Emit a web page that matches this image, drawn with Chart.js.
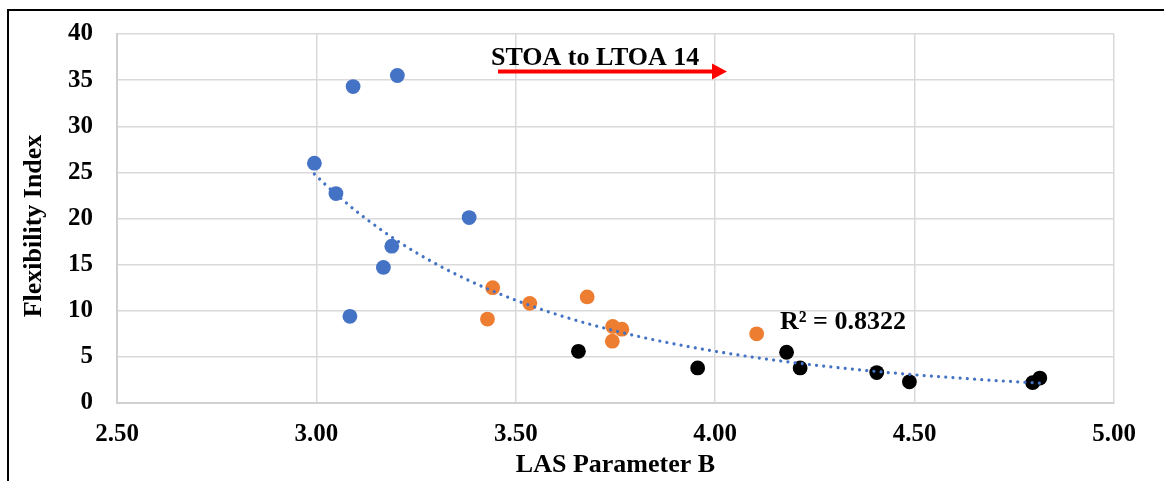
<!DOCTYPE html>
<html>
<head>
<meta charset="utf-8">
<script src="https://cdn.jsdelivr.net/npm/chart.js@4.4.0/dist/chart.umd.min.js"></script>
<style>
html,body{margin:0;padding:0;background:#fff;}
#wrap{width:1164px;height:481px;position:relative;}
</style>
</head>
<body>
<div id="wrap"><canvas id="c" width="1164" height="481"></canvas></div>
<script>
// ---- data ----
const blueX   = [2.995, 3.049, 3.092, 3.203, 3.189, 3.168, 3.084, 3.383];
const blueY   = [26.0, 22.7, 34.3, 35.5, 17.0, 14.7, 9.4, 20.1];
const orangeX = [3.442, 3.429, 3.535, 3.679, 3.743, 3.766, 3.742, 4.104];
const orangeY = [12.5, 9.1, 10.8, 11.5, 8.3, 8.0, 6.7, 7.5];
const blackX  = [3.657, 3.956, 4.179, 4.213, 4.405, 4.487, 4.796, 4.814];
const blackY  = [5.6, 3.8, 5.5, 3.8, 3.3, 2.3, 2.2, 2.7];
const xTicks  = [2.5, 3.0, 3.5, 4.0, 4.5, 5.0];
const yTicks  = [0, 5, 10, 15, 20, 25, 30, 35, 40];
const xTitle  = 'LAS Parameter B';
const yTitle  = 'Flexibility Index';
const arrowLabel = 'STOA to LTOA 14';
const r2Label = 'R² = 0.8322';

const pts = (xs, ys) => xs.map((x, i) => ({x: x, y: ys[i]}));

// power trendline (least squares in log space) fitted to all points
const allX = blueX.concat(orangeX, blackX);
const allY = blueY.concat(orangeY, blackY);
function powerFit(xs, ys) {
  const n = xs.length;
  let sx = 0, sy = 0, sxx = 0, sxy = 0;
  for (let i = 0; i < n; i++) {
    const lx = Math.log(xs[i]), ly = Math.log(ys[i]);
    sx += lx; sy += ly; sxx += lx * lx; sxy += lx * ly;
  }
  const b = (n * sxy - sx * sy) / (n * sxx - sx * sx);
  const a = Math.exp((sy - b * sx) / n);
  return {a, b};
}
const fit = powerFit(allX, allY);
const xMin = Math.min(...allX), xMax = Math.max(...allX);
const trend = [];
for (let i = 0; i <= 80; i++) {
  const x = xMin + (xMax - xMin) * i / 80;
  trend.push({x: x, y: fit.a * Math.pow(x, fit.b)});
}

const FONT = '"Liberation Serif", "Times New Roman", serif';
const PLOT = {left: 117, right: 1114, top: 34, bottom: 403};

const framePlugin = {
  id: 'frame',
  beforeDraw(chart) {
    const ctx = chart.ctx;
    ctx.save();
    ctx.fillStyle = '#fff';
    ctx.fillRect(0, 0, chart.width, chart.height);
    ctx.strokeStyle = '#000';
    ctx.lineWidth = 2;
    ctx.beginPath();
    ctx.moveTo(8, chart.height + 5);
    ctx.lineTo(8, 10);
    ctx.lineTo(chart.width + 5, 10);
    ctx.stroke();
    ctx.restore();
  },
  afterDraw(chart) {
    const ctx = chart.ctx;
    ctx.save();
    // arrow
    ctx.strokeStyle = '#ff0000';
    ctx.fillStyle = '#ff0000';
    ctx.lineWidth = 4;
    ctx.beginPath();
    ctx.moveTo(498, 71.5);
    ctx.lineTo(714, 71.5);
    ctx.stroke();
    ctx.beginPath();
    ctx.moveTo(727, 71.5);
    ctx.lineTo(712, 63.5);
    ctx.lineTo(712, 79.5);
    ctx.closePath();
    ctx.fill();
    // texts
    ctx.fillStyle = '#000';
    ctx.font = 'bold 26px ' + FONT;
    ctx.textBaseline = 'alphabetic';
    ctx.textAlign = 'left';
    ctx.fillText(arrowLabel, 491, 65);
    ctx.fillText(r2Label, 780, 329);
    // y axis title
    ctx.translate(34, 226);
    ctx.rotate(-Math.PI / 2);
    ctx.textAlign = 'center';
    ctx.textBaseline = 'middle';
    ctx.fillText(yTitle, 0, 0);
    ctx.restore();
  }
};

new Chart(document.getElementById('c'), {
  type: 'scatter',
  data: {
    datasets: [
      {
        label: 'Trend', data: trend, showLine: true, pointRadius: 0,
        borderColor: '#4472C4', borderWidth: 3.2, borderDash: [0.01, 7.2],
        borderCapStyle: 'round', fill: false, order: -1
      },
      {label: 'Blue', data: pts(blueX, blueY), backgroundColor: '#4472C4', borderWidth: 0, pointRadius: 7.4},
      {label: 'Orange', data: pts(orangeX, orangeY), backgroundColor: '#ED7D31', borderWidth: 0, pointRadius: 7.4},
      {label: 'Black', data: pts(blackX, blackY), backgroundColor: '#000000', borderWidth: 0, pointRadius: 7.4}
    ]
  },
  options: {
    responsive: false,
    animation: false,
    layout: {autoPadding: false, padding: {left: 0, right: 1164 - PLOT.right, top: PLOT.top, bottom: 0}},
    plugins: {legend: {display: false}, tooltip: {enabled: false}},
    scales: {
      x: {
        type: 'linear', min: 2.5, max: 5.0,
        afterBuildTicks(s) { s.ticks = xTicks.map(v => ({value: v})); },
        afterFit(s) { s.height = 481 - PLOT.bottom; s.paddingLeft = 0; s.paddingRight = 0; },
        ticks: {
          color: '#000', padding: 17,
          font: {family: FONT, size: 25, weight: 'bold'},
          callback: v => Number(v).toFixed(2)
        },
        grid: {color: '#d9d9d9', lineWidth: 1.5, drawTicks: false},
        border: {color: '#d0d0d0', width: 2},
        title: {display: true, text: xTitle, color: '#000', padding: {top: 2, bottom: 0},
                font: {family: FONT, size: 26, weight: 'bold'}}
      },
      y: {
        type: 'linear', min: 0, max: 40,
        afterBuildTicks(s) { s.ticks = yTicks.map(v => ({value: v})); },
        afterFit(s) { s.width = PLOT.left; s.paddingTop = 0; s.paddingBottom = 0; },
        ticks: {
          color: '#000', padding: 24,
          font: {family: FONT, size: 25, weight: 'bold'}
        },
        grid: {color: '#d9d9d9', lineWidth: 1.5, drawTicks: false},
        border: {color: '#d0d0d0', width: 2},
        title: {display: false}
      }
    }
  },
  plugins: [framePlugin]
});
</script>
</body>
</html>
